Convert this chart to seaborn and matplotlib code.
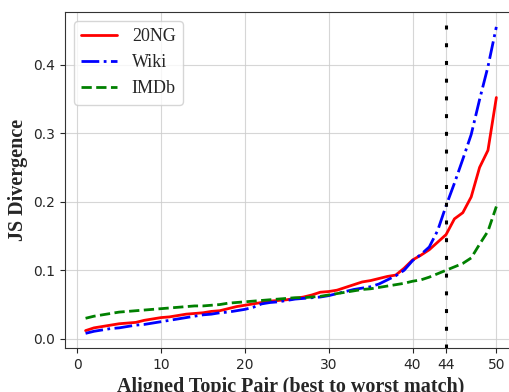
import numpy as np
import pandas as pd
import matplotlib
matplotlib.use("Agg")
import matplotlib.pyplot as plt
import seaborn as sns

topic_pair = list(range(1, 51))
js_20ng = [0.012, 0.016, 0.018, 0.020, 0.022, 0.023, 0.024, 0.027, 0.029, 0.031,
           0.032, 0.034, 0.036, 0.037, 0.038, 0.040, 0.041, 0.044, 0.047, 0.049,
           0.051, 0.053, 0.055, 0.056, 0.057, 0.059, 0.061, 0.064, 0.068, 0.069,
           0.071, 0.075, 0.079, 0.083, 0.085, 0.088, 0.091, 0.093, 0.103, 0.115,
           0.122, 0.130, 0.141, 0.152, 0.175, 0.184, 0.207, 0.250, 0.275, 0.352]
js_wiki = [0.008, 0.011, 0.013, 0.015, 0.016, 0.018, 0.020, 0.021, 0.023, 0.025,
           0.027, 0.029, 0.031, 0.033, 0.035, 0.036, 0.038, 0.039, 0.041, 0.043,
           0.046, 0.051, 0.053, 0.054, 0.056, 0.058, 0.059, 0.060, 0.061, 0.063,
           0.066, 0.069, 0.072, 0.074, 0.076, 0.080, 0.086, 0.092, 0.100, 0.114,
           0.123, 0.134, 0.158, 0.194, 0.227, 0.262, 0.298, 0.349, 0.397, 0.455]
js_imdb = [0.030, 0.033, 0.035, 0.037, 0.039, 0.040, 0.041, 0.042, 0.043, 0.044,
           0.045, 0.046, 0.047, 0.048, 0.048, 0.049, 0.050, 0.052, 0.053, 0.054,
           0.055, 0.056, 0.057, 0.058, 0.059, 0.060, 0.060, 0.061, 0.062, 0.064,
           0.066, 0.068, 0.070, 0.072, 0.073, 0.075, 0.077, 0.079, 0.081, 0.084,
           0.086, 0.090, 0.095, 0.100, 0.105, 0.110, 0.118, 0.138, 0.157, 0.193]
x_ticks = [0, 10, 20, 30, 40, 44, 50]
cutoff = 44

sns.set_style("ticks")
plt.rcParams['font.family'] = ['DejaVu Sans']

df = pd.DataFrame({'pair': topic_pair, '20NG': js_20ng, 'Wiki': js_wiki, 'IMDb': js_imdb})

fig = plt.figure(figsize=(5.1, 3.92), dpi=100)
# axes runs a bit past the right edge, as in the reference (right spine cut off)
ax = fig.add_axes([0.1275, 0.112, 0.886, 0.857])

sns.lineplot(x='pair', y='20NG', data=df, ax=ax, color='red', linestyle='-', lw=2, label='20NG')
sns.lineplot(x='pair', y='Wiki', data=df, ax=ax, color='blue', linestyle='-.', lw=2, label='Wiki')
sns.lineplot(x='pair', y='IMDb', data=df, ax=ax, color='green', linestyle='--', lw=2, label='IMDb')
ax.axvline(cutoff, color='black', lw=2.2, dashes=(1.3, 4.5))

ax.set_xlim(-1.45, 52.45)
ax.set_ylim(-0.0135, 0.4765)
ax.set_xticks(x_ticks)
ax.tick_params(labelsize=10)
ax.grid(True, color='#cccccc', lw=0.8, alpha=0.8)
for s in ax.spines.values():
    s.set_color('#333333')
ax.spines['right'].set_visible(False)

serif = ['Liberation Serif', 'DejaVu Serif']
ax.set_xlabel('Aligned Topic Pair (best to worst match)', fontsize=14.5, fontweight='bold', family=serif)
ax.set_ylabel('JS Divergence', fontsize=14.5, fontweight='bold', family=serif)
ax.legend(loc='upper left', prop={'family': serif, 'size': 13}, handlelength=2.0)

fig.savefig('out.png', dpi=100)
